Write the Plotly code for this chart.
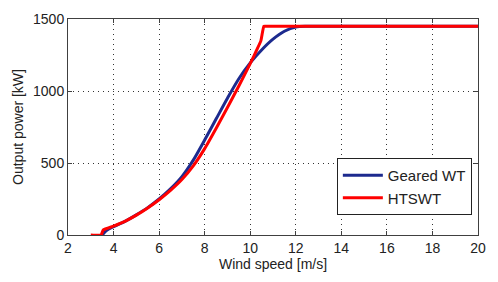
import plotly.graph_objects as go

# Geared WT (blue)
geared_ws = [3.5, 3.7, 4.0, 4.5, 5.0, 5.5, 6.0, 6.5, 7.0, 7.5, 8.0, 8.5, 9.0, 9.5,
             10.0, 10.5, 11.0, 11.5, 12.0, 12.5, 13.0, 20.0]
geared_p = [0, 32, 58, 95, 140, 190, 250, 320, 405, 520, 660, 805, 950, 1085,
            1195, 1285, 1360, 1415, 1445, 1450, 1450, 1450]

# HTSWT (red)
hts_ws = [3.0, 3.45, 3.55, 4.0, 4.5, 5.0, 5.5, 6.0, 6.5, 7.0, 7.5, 8.0, 8.5, 9.0,
          9.5, 10.0, 10.3, 10.47, 10.6, 10.7, 11.0, 20.0]
hts_p = [0, 0, 35, 62, 95, 138, 188, 245, 310, 385, 480, 600, 740, 885,
         1035, 1190, 1290, 1350, 1450, 1450, 1450, 1450]

x_ticks = [2, 4, 6, 8, 10, 12, 14, 16, 18, 20]
y_ticks = [0, 500, 1000, 1500]

FONT = "Liberation Sans, Arial, sans-serif"

fig = go.Figure()
fig.add_trace(go.Scatter(x=geared_ws, y=geared_p, mode="lines", name="Geared WT",
                         line=dict(color="#1c2a8e", width=3, shape="spline", smoothing=0.8)))
fig.add_trace(go.Scatter(x=hts_ws, y=hts_p, mode="lines", name="HTSWT",
                         line=dict(color="#ff0000", width=3, shape="spline", smoothing=0.4)))

axis_common = dict(
    showline=True, linecolor="#404040", linewidth=1, mirror="ticks",
    ticks="inside", ticklen=4, tickcolor="#404040",
    showgrid=True, gridcolor="#333333", griddash="1px,4px", gridwidth=1,
    zeroline=False, automargin=False,
    tickfont=dict(family=FONT, size=14, color="#222222"),
)

fig.update_xaxes(range=[2, 20], tickvals=x_ticks,
                 title=dict(text="Wind speed [m/s]", standoff=4,
                            font=dict(family=FONT, size=14, color="#222222")),
                 **axis_common)
fig.update_yaxes(range=[0, 1500], tickvals=y_ticks,
                 title=dict(text="Output power [kW]", standoff=6,
                            font=dict(family=FONT, size=14, color="#222222")),
                 **axis_common)

fig.update_layout(
    width=490, height=274,
    margin=dict(l=60, r=20, t=11, b=47),
    plot_bgcolor="white", paper_bgcolor="white",
    legend=dict(x=0.985, y=0.093, xanchor="right", yanchor="bottom",
                bordercolor="#222222", borderwidth=1, bgcolor="white",
                font=dict(family=FONT, size=15, color="#222222"),
                tracegroupgap=0, itemwidth=40),
    showlegend=True,
)

fig.write_html("out.html")
